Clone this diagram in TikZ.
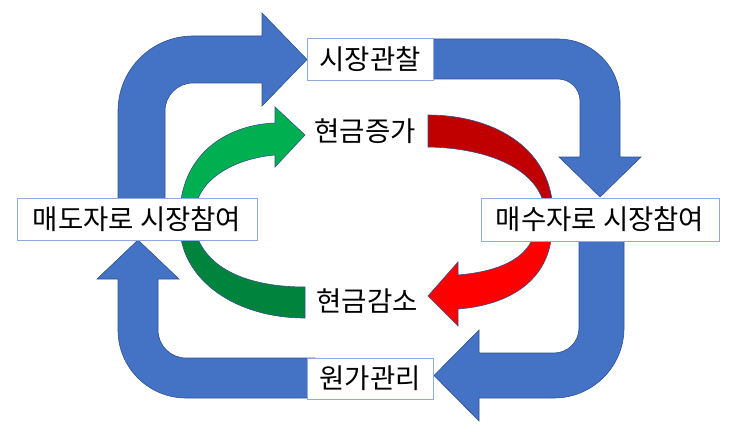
\documentclass[tikz,border=0pt]{standalone}
\usepackage{fontspec}
\setmainfont{Noto Sans CJK KR}
\definecolor{bluefill}{HTML}{4472C4}
\definecolor{blueedge}{HTML}{2F528F}
\definecolor{boxedge}{HTML}{8FAADC}
\definecolor{lgreen}{HTML}{00B050}
\definecolor{dgreen}{RGB}{0,132,61}
\definecolor{dred}{HTML}{C00000}
\definecolor{bred}{HTML}{FF0000}
\tikzset{
  bigarrow/.style={fill=bluefill, draw=blueedge, line width=0.6pt, line join=miter},
  curvearrow/.style={draw=blueedge, line width=0.6pt, line join=miter},
  labelbox/.style={draw=boxedge, fill=white, line width=0.9pt, inner sep=0pt, font=\fontsize{27.5}{30}\selectfont},
  plainlabel/.style={inner sep=0pt, font=\fontsize{27.5}{30}\selectfont}
}
\begin{document}
\begin{tikzpicture}[x=1pt,y=-1pt]
\useasboundingbox (0,0) rectangle (743,441);
% blue bent arrows
\path[bigarrow] (118,205) -- (118,111) .. controls (118,69.6) and (151.6,36) .. (193,36)
  -- (262,36) -- (262,13) -- (307,59.5) -- (262,106) -- (262,83) -- (193,83)
  .. controls (177.5,83) and (165,95.5) .. (165,111) -- (165,205) -- cycle;
\path[bigarrow] (425,39) -- (558,39) .. controls (592.2,39) and (620,66.8) .. (620,101)
  -- (620,157) -- (641,157) -- (600,197) -- (559,157) -- (580,157) -- (580,101)
  .. controls (580,88.9) and (570.1,79) .. (558,79) -- (425,79) -- cycle;
\path[bigarrow] (579,235) -- (624,235) -- (624,328) .. controls (624,366.6) and (592.6,398) .. (554,398)
  -- (479,398) -- (479,421) -- (434,375.5) -- (479,330) -- (479,353) -- (554,353)
  .. controls (567.8,353) and (579,341.8) .. (579,328) -- cycle;
\path[bigarrow] (315,358) -- (315,398) -- (186,398) .. controls (148.5,398) and (118,367.5) .. (118,330)
  -- (118,279) -- (97,279) -- (138,240) -- (179,279) -- (158,279) -- (158,330)
  .. controls (158,345.5) and (170.5,358) .. (186,358) -- cycle;
% green arrows
\path[curvearrow, fill=lgreen] (180,210) .. controls (183,155) and (225,125) .. (275,123)
  -- (275,107) -- (305,135) -- (275,167) -- (275,155)
  .. controls (240,158) and (200,175) .. (195,210) -- cycle;
\path[curvearrow, fill=dgreen] (180,230) .. controls (183,280) and (235,318) .. (305,318)
  -- (305,287) .. controls (250,287) and (205,270) .. (195,230) -- cycle;
% red arrows
\path[curvearrow, fill=dred] (428,115) .. controls (490,115) and (550,145) .. (553,210)
  -- (545,210) .. controls (540,170) and (490,148) .. (428,147) -- cycle;
\path[curvearrow, fill=bred] (552,230) .. controls (550,280) and (510,305) .. (458,309)
  -- (458,326) -- (428,296) -- (458,262) -- (458,275)
  .. controls (495,272) and (530,260) .. (535,230) -- cycle;
% boxes
\node[labelbox, minimum width=126pt, minimum height=42pt] (obs) at (370,59) {시장관찰};
\node[labelbox, minimum width=238pt, minimum height=43pt] (buy) at (600,219.5) {매수자로 시장참여};
\node[labelbox, minimum width=240pt, minimum height=42pt] (sell) at (137,219) {매도자로 시장참여};
\node[labelbox, minimum width=126pt, minimum height=41pt] (cost) at (370,378.5) {원가관리};
\node[plainlabel] (inc) at (365,131) {현금증가};
\node[plainlabel] (dec) at (367,301) {현금감소};
\end{tikzpicture}
\end{document}
